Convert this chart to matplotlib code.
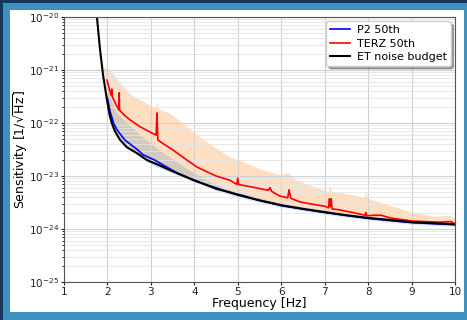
import numpy as np
import matplotlib
matplotlib.use("Agg")
import matplotlib.pyplot as plt
from matplotlib.patches import Rectangle
from matplotlib.ticker import NullFormatter, LogLocator

# ---- data (values are log10 of sensitivity) ----
et_freq = [1.70, 1.76, 1.83, 1.90, 1.99, 2.05, 2.10, 2.17, 2.29, 2.45, 2.68, 2.91, 3.20,
           3.44, 3.70, 4.00, 4.50, 5.05, 5.50, 6.00, 6.50, 7.00, 7.50, 8.00, 8.50, 9.00,
           9.50, 10.0]
et_log = [-19.75, -20.02, -20.62, -21.10, -21.57, -21.85, -22.00, -22.15, -22.32, -22.46,
          -22.57, -22.70, -22.80, -22.89, -22.98, -23.08, -23.24, -23.36, -23.46, -23.55,
          -23.62, -23.68, -23.74, -23.79, -23.83, -23.87, -23.89, -23.91]

p2_freq = [2.00, 2.06, 2.14, 2.22, 2.40, 2.70, 2.82, 3.09, 3.30, 3.60, 4.00, 5.00, 6.00,
           7.00, 8.00, 9.00, 10.0]
p2_log = [-21.53, -21.78, -22.00, -22.13, -22.32, -22.51, -22.60, -22.70, -22.80, -22.94,
          -23.09, -23.36, -23.56, -23.69, -23.80, -23.88, -23.92]

p2_band_freq = [2.00, 2.10, 2.20, 2.45, 2.75, 3.10, 3.44, 3.90, 4.50, 5.00, 6.00, 7.00,
                8.00, 9.00, 10.0]
p2_hi_log = [-21.35, -21.60, -21.80, -22.00, -22.22, -22.45, -22.65, -22.90, -23.17, -23.31,
             -23.51, -23.65, -23.77, -23.85, -23.89]
p2_lo_log = [-21.62, -22.08, -22.25, -22.45, -22.64, -22.82, -22.93, -23.08, -23.28, -23.40,
             -23.59, -23.72, -23.83, -23.91, -23.95]

terz_freq = [1.99, 2.05, 2.09, 2.10, 2.11, 2.20, 2.26, 2.27, 2.28, 2.40, 2.52, 2.75, 2.98,
             3.12, 3.14, 3.16, 3.30, 3.51, 3.83, 4.06, 4.50, 4.82, 4.98, 5.00, 5.02, 5.40,
             5.70, 5.74, 5.78, 5.97, 6.15, 6.18, 6.22, 6.43, 6.70, 7.00, 7.09, 7.11, 7.13,
             7.15, 7.17, 7.35, 7.65, 7.93, 7.95, 7.97, 8.15, 8.30, 8.50, 9.01, 9.30, 9.66,
             9.90, 10.0]
terz_log = [-21.19, -21.38, -21.48, -21.36, -21.50, -21.66, -21.75, -21.43, -21.76, -21.86,
            -21.94, -22.07, -22.17, -22.23, -21.81, -22.32, -22.40, -22.51, -22.70, -22.83,
            -23.00, -23.08, -23.16, -23.04, -23.16, -23.22, -23.27, -23.22, -23.29, -23.38,
            -23.41, -23.26, -23.42, -23.49, -23.53, -23.57, -23.60, -23.43, -23.58, -23.43,
            -23.62, -23.64, -23.69, -23.74, -23.69, -23.75, -23.74, -23.74, -23.79, -23.85,
            -23.86, -23.87, -23.86, -23.90]

terz_band_freq = [1.90, 2.06, 2.30, 2.52, 2.80, 3.10, 3.14, 3.18, 3.44, 3.75, 4.06, 4.45,
                  4.82, 5.10, 5.50, 5.97, 6.15, 6.30, 6.66, 7.08, 7.12, 7.16, 7.50, 7.92,
                  7.95, 7.98, 8.30, 8.60, 9.01, 9.50, 9.90, 10.0]
terz_hi_log = [-20.94, -21.00, -21.25, -21.45, -21.58, -21.72, -21.60, -21.73, -21.82, -22.02,
               -22.22, -22.45, -22.64, -22.72, -22.86, -22.98, -22.93, -23.06, -23.17, -23.30,
               -23.18, -23.30, -23.33, -23.40, -23.28, -23.42, -23.50, -23.58, -23.68, -23.76,
               -23.74, -23.82]
terz_lo_log = [-20.96, -21.85, -22.33, -22.50, -22.63, -22.76, -22.77, -22.78, -22.89, -23.00,
               -23.10, -23.22, -23.32, -23.38, -23.46, -23.55, -23.58, -23.60, -23.65, -23.70,
               -23.70, -23.71, -23.74, -23.79, -23.79, -23.79, -23.82, -23.85, -23.87, -23.89,
               -23.91, -23.91]

x_ticks = [1, 2, 3, 4, 5, 6, 7, 8, 9, 10]
y_ticks = [1e-25, 1e-24, 1e-23, 1e-22, 1e-21, 1e-20]

W, H = 467, 320
fig = plt.figure(figsize=(W / 100, H / 100), dpi=100)
fig.patch.set_facecolor("#3d92bd")
# frame decorations
fig.patches.append(Rectangle((0, 1 - 3 / H), 1, 3 / H, transform=fig.transFigure,
                             facecolor="#15385a", edgecolor="none", zorder=-3))
fig.patches.append(Rectangle((0, 0), 3 / W, 1, transform=fig.transFigure,
                             facecolor="#15385a", edgecolor="none", zorder=-3))
fig.patches.append(Rectangle((10 / W, 8 / H), 454 / W, 302 / H, transform=fig.transFigure,
                             facecolor="white", edgecolor="none", zorder=-2))

ax = fig.add_axes([64 / W, 38 / H, 391 / W, 265 / H])

p = lambda a: 10.0 ** np.array(a)

ax.fill_between(terz_band_freq, p(terz_lo_log), p(terz_hi_log), color="#ff7f0e",
                alpha=0.25, linewidth=0)
ax.fill_between(p2_band_freq, p(p2_lo_log), p(p2_hi_log), color="#1f77b4", alpha=0.2,
                linewidth=0)

ax.plot(p2_freq, p(p2_log), color="blue", lw=1.2, label="P2 50th")
ax.plot(terz_freq, p(terz_log), color="red", lw=1.2, label="TERZ 50th")
ax.plot(et_freq, p(et_log), color="black", lw=1.5, label="ET noise budget")

ax.set_yscale("log")
ax.set_xlim(1, 10)
ax.set_ylim(1e-25, 1e-20)
ax.set_xticks(x_ticks)
ax.set_xticklabels([str(t) for t in x_ticks])
ax.set_yticks(y_ticks)
ax.yaxis.set_minor_locator(LogLocator(base=10, subs=np.arange(2, 10), numticks=20))
ax.yaxis.set_minor_formatter(NullFormatter())
ax.set_ylim(1e-25, 1e-20)
ax.grid(True, which="major", color="#d0d0d0", lw=0.8)
ax.grid(True, which="minor", axis="y", color="#e4e4e4", lw=0.6)
ax.tick_params(which="major", labelsize=7.5, colors="#222222", length=2.2, pad=1.2)
ax.tick_params(which="minor", length=1.2)
for s in ax.spines.values():
    s.set_color("#555555")
ax.set_xlabel("Frequency [Hz]", fontsize=9)
ax.set_ylabel(r"Sensitivity [1/$\sqrt{\rm Hz}$]", fontsize=9)
ax.xaxis.set_label_coords(0.5, -0.058)
ax.yaxis.set_label_coords(-0.088, 0.5)
ax.legend(loc="upper right", fontsize=8, framealpha=1, shadow=True, fancybox=True,
          handlelength=1.8, handletextpad=0.6, borderpad=0.35, labelspacing=0.3,
          borderaxespad=0.4)

fig.savefig("out.png", dpi=100)
